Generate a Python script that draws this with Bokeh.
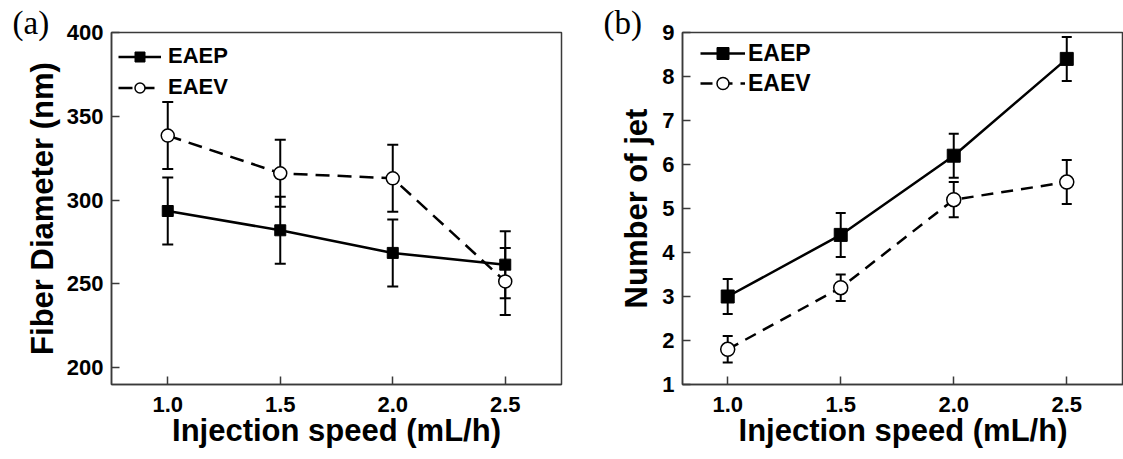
from bokeh.plotting import figure
from bokeh.layouts import row
from bokeh.models import (ColumnDataSource, Whisker, TeeHead, Legend, LegendItem,
                          FixedTicker, Range1d, PrintfTickFormatter)
from bokeh.embed import file_html
from bokeh.resources import INLINE

# ---------------- data ----------------
speed = [1.0, 1.5, 2.0, 2.5]
x_ticks = [1.0, 1.5, 2.0, 2.5]

diam_eaep = [293.5, 282.0, 268.5, 261.5]
diam_eaep_err = [20, 20, 20, 20]
diam_eaev = [338.5, 316.0, 313.0, 251.5]
diam_eaev_err = [20, 20, 20, 20]
diam_ticks = [200, 250, 300, 350, 400]

jet_eaep = [3.0, 4.4, 6.2, 8.4]
jet_eaep_err = [0.4, 0.5, 0.5, 0.5]
jet_eaev = [1.8, 3.2, 5.2, 5.6]
jet_eaev_err = [0.3, 0.3, 0.4, 0.5]
jet_ticks = [1, 2, 3, 4, 5, 6, 7, 8, 9]

series_names = ["EAEP", "EAEV"]
panel_tags = ["(a)", "(b)"]
x_title = "Injection speed (mL/h)"
y_title_a = "Fiber Diameter (nm)"
y_title_b = "Number of jet"

FONT = "Liberation Sans"
FRAME = "#3a3a3a"


def style_axes(p, yticks, y_label_standoff):
    for ax in p.axis:
        ax.axis_line_color = FRAME
        ax.axis_line_width = 1.5
        ax.major_tick_in = 8
        ax.major_tick_out = 0
        ax.major_tick_line_color = FRAME
        ax.major_tick_line_width = 1.5
        ax.minor_tick_line_color = None
        ax.major_label_text_font = FONT
        ax.major_label_text_font_size = "22px"
        ax.major_label_text_font_style = "bold"
        ax.major_label_text_color = "black"
        ax.axis_label_text_font = FONT
        ax.axis_label_text_font_size = "31px"
        ax.axis_label_text_font_style = "bold"
        ax.axis_label_text_color = "black"
    p.xaxis.major_label_standoff = 12
    p.xaxis.axis_label_standoff = -2
    p.yaxis.major_label_standoff = 8
    p.yaxis.axis_label_standoff = y_label_standoff
    p.xaxis.ticker = FixedTicker(ticks=x_ticks)
    p.xaxis.formatter = PrintfTickFormatter(format="%.1f")
    p.yaxis.ticker = FixedTicker(ticks=yticks)
    p.xgrid.visible = False
    p.ygrid.visible = False
    p.outline_line_color = FRAME
    p.outline_line_width = 1.5


def style_tag(p, text, offset):
    t = p.title
    t.text = text
    t.align = "left"
    t.offset = offset
    t.vertical_align = "top"
    t.standoff = -21
    t.text_font = "Liberation Serif"
    t.text_font_size = "33px"
    t.text_font_style = "normal"
    t.text_color = "black"


def add_series(p, ys, errs, marker, size, dash, cap):
    lower = [y - e for y, e in zip(ys, errs)]
    upper = [y + e for y, e in zip(ys, errs)]
    src = ColumnDataSource(dict(x=speed, y=ys, lower=lower, upper=upper))
    w = Whisker(source=src, base="x", lower="lower", upper="upper",
                line_color="black", line_width=2,
                lower_head=TeeHead(size=cap, line_color="black", line_width=2),
                upper_head=TeeHead(size=cap, line_color="black", line_width=2))
    p.add_layout(w)
    ln = p.line("x", "y", source=src, line_color="black", line_width=2.5, line_dash=dash)
    if marker == "square":
        sc = p.scatter("x", "y", source=src, marker="square", size=size,
                       fill_color="black", line_color="black", line_width=1)
    else:
        sc = p.scatter("x", "y", source=src, marker="circle", size=size,
                       fill_color="white", line_color="black", line_width=1.5)
    return ln, sc


def add_legend(p, rends, loc, gw, gh, spacing, standoff, fsize):
    items = [LegendItem(label=series_names[i], renderers=list(rends[i])) for i in range(2)]
    lg = Legend(items=items, location=loc, glyph_width=gw, glyph_height=gh, label_height=gh,
                spacing=spacing, padding=0, margin=0, border_line_color=None,
                background_fill_alpha=0, label_standoff=standoff,
                label_text_font=FONT, label_text_font_size=fsize,
                label_text_font_style="bold", label_text_color="black")
    p.add_layout(lg)


# ---------------- panel (a) ----------------
pa = figure(width=590, height=459, x_range=Range1d(0.75, 2.75), y_range=Range1d(190, 400),
            output_backend="svg", toolbar_location=None, title=panel_tags[0],
            min_border_left=111, min_border_right=29, min_border_top=32, min_border_bottom=74,
            x_axis_label=x_title, y_axis_label=y_title_a)
style_axes(pa, diam_ticks, 4)
style_tag(pa, panel_tags[0], -99)
ra1 = add_series(pa, diam_eaep, diam_eaep_err, "square", 11, "solid", 11)
ra2 = add_series(pa, diam_eaev, diam_eaev_err, "circle", 13, "14 8", 11)
add_legend(pa, [ra1, ra2], (7, 284), 43, 25, 5, 7, "22px")

# ---------------- panel (b) ----------------
pb = figure(width=533, height=459, x_range=Range1d(0.8, 2.751), y_range=Range1d(1, 9),
            output_backend="svg", toolbar_location=None, title=panel_tags[1],
            min_border_left=92, min_border_right=0, min_border_top=30, min_border_bottom=75,
            x_axis_label=x_title, y_axis_label=y_title_b)
style_axes(pb, jet_ticks, 5)
style_tag(pb, panel_tags[1], -79)
rb1 = add_series(pb, jet_eaep, jet_eaep_err, "square", 13, "solid", 10)
rb2 = add_series(pb, jet_eaev, jet_eaev_err, "circle", 14, "12 8", 10)
add_legend(pb, [rb1, rb2], (18, 286), 45, 30, 0, 3, "23px")

layout = row(pa, pb)
open("out.html", "w").write(file_html(layout, INLINE))
